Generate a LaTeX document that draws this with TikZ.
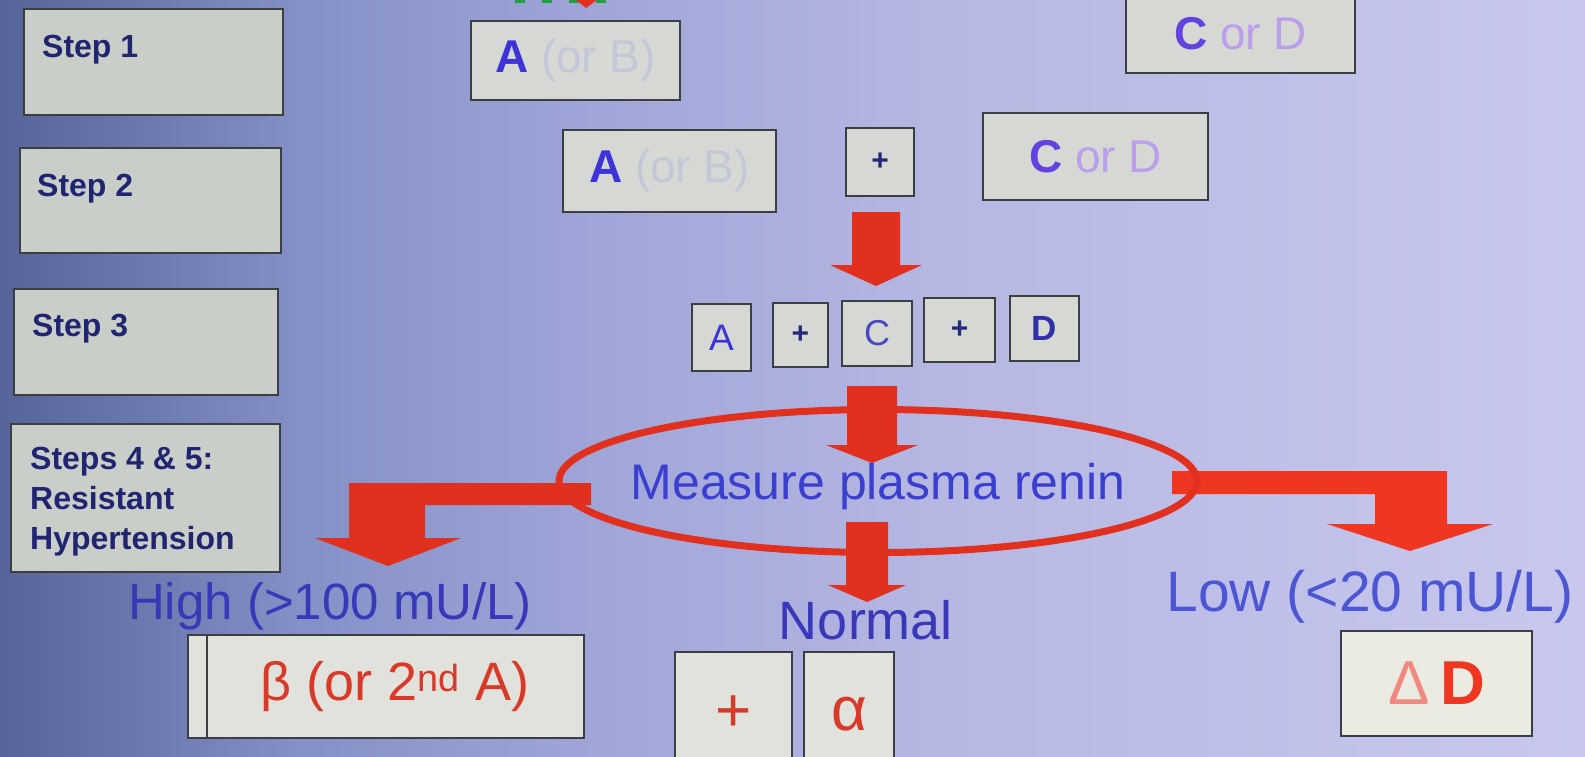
\documentclass[tikz,border=0pt]{standalone}
\usepackage{fontspec}
\setmainfont{Liberation Sans}
\usetikzlibrary{shapes.geometric}
\definecolor{bgA}{HTML}{56649A}
\definecolor{bgB}{HTML}{8490C6}
\definecolor{bgC}{HTML}{A2A7D9}
\definecolor{bgD}{HTML}{B6B8E3}
\definecolor{bgE}{HTML}{C8C8EE}
\definecolor{bline}{HTML}{3A3F44}
\definecolor{boxS}{HTML}{C9CFC8}
\definecolor{boxB}{HTML}{D6D9D3}
\definecolor{boxL}{HTML}{E2E2DC}
\definecolor{boxD}{HTML}{ECEBE1}
\definecolor{stepc}{HTML}{1F2570}
\definecolor{blueA}{HTML}{3C34D8}
\definecolor{faint}{HTML}{C4C7DA}
\definecolor{cdC}{HTML}{6442E0}
\definecolor{cdD}{HTML}{BC9EEC}
\definecolor{navy}{HTML}{24287A}
\definecolor{rowC}{HTML}{4848C4}
\definecolor{rowD}{HTML}{3030A8}
\definecolor{redc}{HTML}{E2301E}
\definecolor{redr}{HTML}{EE3620}
\definecolor{redt}{HTML}{D83A2A}
\definecolor{dlt}{HTML}{F08A80}
\definecolor{measc}{HTML}{3B3FCF}
\definecolor{highc}{HTML}{3838B8}
\definecolor{lowc}{HTML}{4C56D4}
\definecolor{greenc}{HTML}{20A040}
\newcommand\fsz[1]{\fontsize{#1}{#1}\selectfont}
\newcommand\redDown[6]{%
  \fill[redc] ({#1-#3},#2) -- ({#1+#3},#2) -- ({#1+#3},#4) -- ({#1+#5},#4) -- (#1,#6) -- ({#1-#5},#4) -- ({#1-#3},#4) -- cycle;}
\begin{document}
\begin{tikzpicture}[x=1pt,y=-1pt,
  box/.style={draw=bline, line width=2pt, fill=#1, inner sep=0pt, outer sep=0pt},
  box/.default=boxB,
  steptxt/.style={inner sep=0pt, text=stepc, font=\bfseries\fontsize{32}{40}\selectfont, align=left},
  lbl/.style={inner sep=0pt}]
% background
\useasboundingbox (0,0) rectangle (1585,756);
\shade[left color=bgA, right color=bgB] (0,0) rectangle (300,756);
\shade[left color=bgB, right color=bgC] (300,0) rectangle (620,756);
\shade[left color=bgC, right color=bgD] (620,0) rectangle (950,756);
\shade[left color=bgD, right color=bgE] (950,0) rectangle (1585,756);
% cut-off element at the top
\draw[greenc, line width=3pt, dash pattern=on 10pt off 17pt] (515,1.5) -- (607,1.5);
\fill[redc] (576,0) -- (597,0) -- (586,8) -- cycle;
% step boxes
\node[box=boxS, minimum width=259, minimum height=106] (s1) at (153.5,62) {};
\node[box=boxS, minimum width=261, minimum height=105] (s2) at (150.5,200.5) {};
\node[box=boxS, minimum width=264, minimum height=106] (s3) at (146,342) {};
\node[box=boxS, minimum width=269, minimum height=148] (s4) at (145.5,498) {};
\node[steptxt, anchor=north west] (t1) at (42,35) {Step 1};
\node[steptxt, anchor=north west] (t2) at (37,174) {Step 2};
\node[steptxt, anchor=north west] (t3) at (32,314) {Step 3};
\node[steptxt, anchor=north west] (t4) at (30,447) {Steps 4 \& 5:\\Resistant\\Hypertension};
% step 1 / step 2 drug boxes
\node[box, minimum width=209, minimum height=79] (ab1) at (575.5,60.5)
  {\fsz{46}\textcolor{blueA}{\textbf{A}}\ \textcolor{faint}{(or B)}};
\node[box, minimum width=229, minimum height=79] (cd1) at (1240.5,33.5)
  {\fsz{46}\textcolor{cdC}{\textbf{C}}\ \textcolor{cdD}{or D}};
\node[box, minimum width=213, minimum height=82] (ab2) at (669.5,171)
  {\fsz{46}\textcolor{blueA}{\textbf{A}}\ \textcolor{faint}{(or B)}};
\node[box, minimum width=68, minimum height=68] (p1) at (880,162)
  {\fsz{30}\textcolor{navy}{\textbf{+}}};
\node[box, minimum width=225, minimum height=87] (cd2) at (1095.5,156.5)
  {\fsz{46}\textcolor{cdC}{\textbf{C}}\ \textcolor{cdD}{or D}};
% step 3 row
\node[box, minimum width=59, minimum height=67] (rA) at (721.5,337.5) {\fsz{37}\textcolor{blueA}{A}};
\node[box, minimum width=55, minimum height=64] (rP1) at (800.5,335) {\fsz{30}\textcolor{navy}{\textbf{+}}};
\node[box, minimum width=70, minimum height=65] (rC) at (877,333.5) {\fsz{36}\textcolor{rowC}{C}};
\node[box, minimum width=71, minimum height=64] (rP2) at (959.5,330) {\fsz{30}\textcolor{navy}{\textbf{+}}};
\node[box, minimum width=69, minimum height=65] (rD) at (1044.5,328.5) {\fsz{35}\textcolor{rowD}{\textbf{D}}};
% arrows
\redDown{876}{212}{24}{265}{46}{286}
\redDown{872}{386}{25}{445}{46}{463}
\redDown{867}{522}{21}{585}{39}{602}
\fill[redc] (591,483) -- (349,483) -- (349,538) -- (315,538) -- (388,566) -- (461,538) -- (425,538) -- (425,505) -- (591,505) -- cycle;
\fill[redr] (1172,471) -- (1447,471) -- (1447,524) -- (1493,524) -- (1410,551) -- (1327,524) -- (1375,524) -- (1375,494) -- (1172,494) -- cycle;
% ellipse
\node[draw=redc, line width=7pt, ellipse, minimum width=638, minimum height=143, inner sep=0pt, outer sep=0pt] (ell) at (878,481) {};
\node[lbl, anchor=base, text=measc] (meas) at (878,499) {\fsz{50}Measure plasma renin};
% outcome labels
\node[lbl, anchor=base, text=highc] (high) at (330,619) {\fsz{51}High (>100 mU/L)};
\node[lbl, anchor=base, text=highc] (normal) at (866,639) {\fsz{54}Normal};
\node[lbl, anchor=base, text=lowc] (low) at (1370,611) {\fsz{57}Low (<20 mU/L)};
% outcome boxes
\node[box=boxL, minimum width=396, minimum height=103] (beta) at (386,686.5)
  {\hspace*{18pt}\fsz{54}\textcolor{redt}{β (or 2\textsuperscript{nd} A)}};
\draw[bline, line width=1.5pt] (207,635) -- (207,738);
\node[box=boxL, minimum width=117, minimum height=124] (p2) at (733.5,714) {\fsz{62}\textcolor{redt}{+}};
\node[box=boxL, minimum width=90, minimum height=124] (al) at (849,714) {\fsz{62}\textcolor{redt}{α}};
\node[box=boxD, minimum width=191, minimum height=105] (dd) at (1436.5,683.5)
  {\fsz{62}\textcolor{dlt}{Δ}\,\textcolor{redr}{\textbf{D}}};
\end{tikzpicture}
\end{document}
